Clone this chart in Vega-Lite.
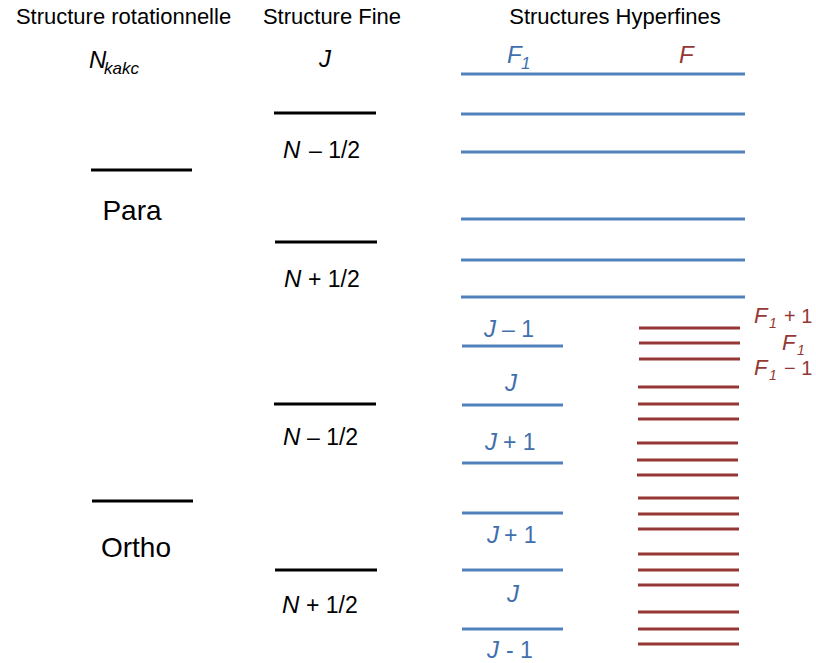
{
  "$schema": "https://vega.github.io/schema/vega-lite/v6.json",
  "width": 816,
  "height": 663,
  "padding": 0,
  "autosize": {"type": "none"},
  "background": "white",
  "config": {"view": {"stroke": null}, "text": {"font": "Liberation Sans", "baseline": "alphabetic"}},
  "datasets": {
    "lines": [
      {"x1": 91, "x2": 192, "y": 170, "kind": "black"},
      {"x1": 92, "x2": 193, "y": 501, "kind": "black"},
      {"x1": 274, "x2": 376, "y": 113, "kind": "black"},
      {"x1": 275, "x2": 377, "y": 242, "kind": "black"},
      {"x1": 274, "x2": 376, "y": 404, "kind": "black"},
      {"x1": 275, "x2": 377, "y": 570, "kind": "black"},
      {"x1": 461, "x2": 745, "y": 74, "kind": "blue"},
      {"x1": 461, "x2": 745, "y": 114, "kind": "blue"},
      {"x1": 461, "x2": 745, "y": 152, "kind": "blue"},
      {"x1": 461, "x2": 745, "y": 219, "kind": "blue"},
      {"x1": 461, "x2": 745, "y": 260, "kind": "blue"},
      {"x1": 461, "x2": 745, "y": 297, "kind": "blue"},
      {"x1": 462, "x2": 563, "y": 346, "kind": "blue"},
      {"x1": 462, "x2": 563, "y": 405, "kind": "blue"},
      {"x1": 462, "x2": 563, "y": 463, "kind": "blue"},
      {"x1": 462, "x2": 563, "y": 513, "kind": "blue"},
      {"x1": 462, "x2": 563, "y": 570, "kind": "blue"},
      {"x1": 462, "x2": 563, "y": 629, "kind": "blue"},
      {"x1": 639, "x2": 740, "y": 328, "kind": "red"},
      {"x1": 639, "x2": 740, "y": 343, "kind": "red"},
      {"x1": 639, "x2": 740, "y": 359, "kind": "red"},
      {"x1": 638, "x2": 739, "y": 387, "kind": "red"},
      {"x1": 638, "x2": 739, "y": 404, "kind": "red"},
      {"x1": 638, "x2": 739, "y": 419, "kind": "red"},
      {"x1": 637, "x2": 738, "y": 443, "kind": "red"},
      {"x1": 637, "x2": 738, "y": 460, "kind": "red"},
      {"x1": 637, "x2": 738, "y": 475, "kind": "red"},
      {"x1": 638, "x2": 739, "y": 498, "kind": "red"},
      {"x1": 638, "x2": 739, "y": 514, "kind": "red"},
      {"x1": 638, "x2": 739, "y": 529, "kind": "red"},
      {"x1": 638, "x2": 739, "y": 554, "kind": "red"},
      {"x1": 638, "x2": 739, "y": 570, "kind": "red"},
      {"x1": 638, "x2": 739, "y": 585, "kind": "red"},
      {"x1": 638, "x2": 739, "y": 612, "kind": "red"},
      {"x1": 638, "x2": 739, "y": 629, "kind": "red"},
      {"x1": 638, "x2": 739, "y": 644, "kind": "red"}
    ],
    "headers": [
      {"x": 123.5, "y": 24, "text": "Structure rotationnelle"},
      {"x": 332, "y": 24, "text": "Structure Fine"},
      {"x": 615, "y": 24, "text": "Structures Hyperfines"}
    ],
    "italics": [
      {"x": 89, "y": 68, "text": "N", "kind": "black"},
      {"x": 319, "y": 67, "text": "J", "kind": "black"},
      {"x": 507, "y": 63, "text": "F", "kind": "blue"},
      {"x": 679, "y": 63, "text": "F", "kind": "red"},
      {"x": 283, "y": 158, "text": "N", "kind": "black"},
      {"x": 284, "y": 287, "text": "N", "kind": "black"},
      {"x": 283, "y": 445, "text": "N", "kind": "black"},
      {"x": 282, "y": 613, "text": "N", "kind": "black"},
      {"x": 484, "y": 337, "text": "J", "kind": "blue"},
      {"x": 505, "y": 391, "text": "J", "kind": "blue"},
      {"x": 485, "y": 450, "text": "J", "kind": "blue"},
      {"x": 487, "y": 543, "text": "J", "kind": "blue"},
      {"x": 507, "y": 602, "text": "J", "kind": "blue"},
      {"x": 487, "y": 658, "text": "J", "kind": "blue"}
    ],
    "suffixes": [
      {"x": 309, "y": 158, "text": "– 1/2", "kind": "black"},
      {"x": 308, "y": 287, "text": "+ 1/2", "kind": "black"},
      {"x": 307, "y": 445, "text": "– 1/2", "kind": "black"},
      {"x": 306, "y": 613, "text": "+ 1/2", "kind": "black"},
      {"x": 502, "y": 337, "text": "– 1", "kind": "blue"},
      {"x": 503, "y": 450, "text": "+ 1", "kind": "blue"},
      {"x": 504, "y": 543, "text": "+ 1", "kind": "blue"},
      {"x": 506, "y": 658, "text": "- 1", "kind": "blue"}
    ],
    "subs": [
      {"x": 104, "y": 74, "text": "kakc", "kind": "black"},
      {"x": 521, "y": 69, "text": "1", "kind": "blue"}
    ],
    "groups": [
      {"x": 132, "y": 220, "text": "Para"},
      {"x": 136, "y": 557, "text": "Ortho"}
    ],
    "redF": [
      {"x": 754, "y": 323, "text": "F"},
      {"x": 782, "y": 350, "text": "F"},
      {"x": 754, "y": 375, "text": "F"}
    ],
    "redSub": [
      {"x": 769, "y": 328, "text": "1"},
      {"x": 797, "y": 355, "text": "1"},
      {"x": 769, "y": 380, "text": "1"}
    ],
    "redSuffix": [
      {"x": 784, "y": 323, "text": "+ 1"},
      {"x": 784, "y": 375, "text": "− 1"}
    ]
  },
  "encoding": {
    "x": {"field": "x", "type": "quantitative", "axis": null, "scale": {"domain": [0, 816], "nice": false, "zero": false}},
    "y": {"field": "y", "type": "quantitative", "axis": null, "scale": {"domain": [0, 663], "nice": false, "zero": false, "reverse": true}}
  },
  "resolve": {"scale": {"color": "independent"}},
  "layer": [
    {
      "data": {"name": "lines"},
      "mark": {"type": "rule", "strokeWidth": 3},
      "encoding": {
        "x": {"field": "x1", "type": "quantitative", "axis": null, "scale": {"domain": [0, 816], "nice": false, "zero": false}},
        "x2": {"field": "x2"},
        "color": {"field": "kind", "type": "nominal", "legend": null, "scale": {"domain": ["black", "blue", "red"], "range": ["#000000", "#4f81bd", "#953735"]}}
      }
    },
    {
      "data": {"name": "headers"},
      "mark": {"type": "text", "fontSize": 22, "align": "center", "color": "#000000"},
      "encoding": {"text": {"field": "text"}}
    },
    {
      "data": {"name": "italics"},
      "mark": {"type": "text", "fontSize": 24, "fontStyle": "italic", "align": "left"},
      "encoding": {
        "text": {"field": "text"},
        "color": {"field": "kind", "type": "nominal", "legend": null, "scale": {"domain": ["black", "blue", "red"], "range": ["#000000", "#4170ad", "#953735"]}}
      }
    },
    {
      "data": {"name": "suffixes"},
      "mark": {"type": "text", "fontSize": 23, "align": "left"},
      "encoding": {
        "text": {"field": "text"},
        "color": {"field": "kind", "type": "nominal", "legend": null, "scale": {"domain": ["black", "blue"], "range": ["#000000", "#4170ad"]}}
      }
    },
    {
      "data": {"name": "subs"},
      "mark": {"type": "text", "fontSize": 17, "fontStyle": "italic", "align": "left"},
      "encoding": {
        "text": {"field": "text"},
        "color": {"field": "kind", "type": "nominal", "legend": null, "scale": {"domain": ["black", "blue"], "range": ["#000000", "#4170ad"]}}
      }
    },
    {
      "data": {"name": "groups"},
      "mark": {"type": "text", "fontSize": 28, "align": "center", "color": "#000000"},
      "encoding": {"text": {"field": "text"}}
    },
    {
      "data": {"name": "redF"},
      "mark": {"type": "text", "fontSize": 22, "fontStyle": "italic", "align": "left", "color": "#953735"},
      "encoding": {"text": {"field": "text"}}
    },
    {
      "data": {"name": "redSub"},
      "mark": {"type": "text", "fontSize": 14, "fontStyle": "italic", "align": "left", "color": "#953735"},
      "encoding": {"text": {"field": "text"}}
    },
    {
      "data": {"name": "redSuffix"},
      "mark": {"type": "text", "fontSize": 20, "align": "left", "color": "#953735"},
      "encoding": {"text": {"field": "text"}}
    }
  ]
}
